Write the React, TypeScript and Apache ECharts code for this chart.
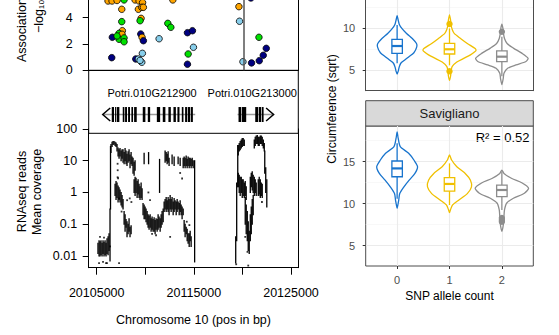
import React, { useEffect, useRef } from "react";
import * as echarts from "echarts";

const FONT = "'Liberation Sans', Arial, Helvetica, sans-serif";

// ---------------- left column: association / genes / RNAseq ----------------
const chromosomeTitle = "Chromosome 10 (pos in bp)";
const xMin = 20104175;
const xMax = 20125753;
const positionTicks = [20105000, 20110000, 20115000, 20120000, 20125000];
const positionTickLabels = [20105000, 20115000, 20125000];

// association (-log10 p) points, LD class: 0 navy, 1 light blue, 2 green, 3 orange
const assocTicks = [0, 2, 4];
const assocPos = [20106165, 20106577, 20107093, 20107815, 20108949, 20109361, 20109722, 20109289, 20109640, 20109804, 20107578, 20112836, 20119640, 20120877, 20107578, 20109567, 20109464, 20112320, 20112629, 20119702, 20106608, 20107639, 20107299, 20107608, 20107299, 20107815, 20107815, 20107093, 20109536, 20109671, 20109804, 20111423, 20114341, 20114856, 20106547, 20109021, 20109289, 20109701, 20109640, 20109464, 20114413, 20114959, 20114341, 20120053, 20120939, 20121702, 20121733, 20122145, 20122454];
const assocLogP = [5.27, 5.27, 5.31, 5.35, 5.35, 5.27, 5.15, 4.64, 4.79, 4.79, 4.64, 5.35, 4.84, 5.5, 3.7, 3.95, 3.77, 3.57, 3.27, 3.73, 2.51, 3.01, 2.81, 2.74, 2.36, 2.46, 2.17, 2.61, 2.76, 2.51, 2.25, 2.4, 2.86, 3.01, 0.96, 0.86, 0.86, 1.29, 0.61, 0.75, 1.24, 1.75, 0.46, 0.65, 0.56, 2.51, 0.73, 1.14, 1.67];
const assocLD = [3, 3, 3, 2, 3, 3, 3, 3, 3, 3, 3, 3, 3, 0, 2, 3, 2, 2, 2, 1, 0, 3, 2, 3, 2, 2, 2, 2, 0, 3, 0, 1, 0, 0, 0, 0, 1, 1, 1, 1, 2, 1, 0, 1, 0, 2, 0, 0, 0];
const ldColors = ["#000080", "#87CEEB", "#00E000", "#FFA500"];
const snpPosition = 20120114;

// gene models
const geneNames = ["Potri.010G212900", "Potri.010G213000"];
const geneStart = [20105620, 20119500];
const geneEnd = [20115140, 20123210];
const geneStrand = [-1, 1];
const geneLabelPos = [20110700, 20121010];
const exonStart = [20106550, 20106890, 20107090, 20107680, 20107920, 20108230, 20108570, 20108850, 20109740, 20110260, 20111190, 20111800, 20112380, 20112900, 20113310, 20113760, 20114100, 20114380, 20114690, 20119600, 20119950, 20121320, 20121700, 20122010];
const exonEnd = [20106780, 20107020, 20107330, 20107850, 20108120, 20108430, 20108740, 20109120, 20110010, 20110500, 20111530, 20112070, 20112630, 20113150, 20113520, 20113930, 20114310, 20114620, 20114900, 20119880, 20120390, 20121630, 20121940, 20122180];

// RNAseq mean coverage: [position, low, high] streaks and isolated values
const coverageTicks = [0.01, 0.1, 1, 10, 100];
const coverageRanges: [number, number, number][] = [
  [20105130, 0.012, 0.025], [20105240, 0.01, 0.03], [20105340, 0.01, 0.028], [20105440, 0.011, 0.03],
  [20105550, 0.01, 0.025], [20105650, 0.012, 0.03], [20105750, 0.01, 0.027], [20105860, 0.011, 0.03],
  [20105960, 0.01, 0.025], [20106060, 0.012, 0.035], [20106170, 0.011, 0.04], [20106270, 0.015, 0.05],
  [20106370, 0.007, 0.3], [20106420, 0.3, 28],
  [20106470, 18, 32], [20106580, 28, 38], [20106680, 32, 40], [20106780, 33, 40], [20106890, 30, 38],
  [20106990, 28, 36], [20107090, 20, 32], [20107200, 14, 25],
  [20107300, 12, 22], [20107400, 14, 24], [20107510, 10, 20], [20107610, 12, 22], [20107710, 9, 22],
  [20107820, 8, 18], [20107920, 10, 24], [20108020, 8, 20], [20108120, 7, 16], [20108230, 9, 19],
  [20108330, 10, 22], [20108430, 6, 15], [20108540, 8, 18], [20108640, 7, 13], [20108740, 4, 12],
  [20108850, 3.5, 9], [20108950, 5, 10],
  [20106890, 0.8, 1.8], [20106990, 0.6, 2.2], [20107090, 0.7, 2.0], [20107200, 0.5, 1.6], [20107300, 0.6, 1.4],
  [20107400, 0.5, 1.2], [20107510, 0.4, 1.0], [20107610, 0.35, 0.8], [20107710, 0.3, 0.6],
  [20107820, 0.1, 0.25], [20107920, 0.06, 0.2], [20108020, 0.08, 0.14], [20108120, 0.04, 0.12],
  [20108230, 0.05, 0.1], [20108330, 0.06, 0.15], [20108430, 0.04, 0.08], [20108540, 0.05, 0.09],
  [20108850, 1.0, 2.5], [20108950, 0.8, 3.0], [20109050, 1.0, 2.8], [20109160, 0.7, 2.2], [20109260, 0.9, 2.5],
  [20109360, 0.7, 1.8], [20109460, 0.6, 1.5], [20109570, 0.7, 2.0], [20109670, 0.6, 1.3],
  [20109880, 8, 17], [20110340, 8, 18],
  [20109770, 0.2, 0.45], [20109880, 0.15, 0.4], [20109980, 0.15, 0.35], [20110080, 0.12, 0.3],
  [20110190, 0.1, 0.25], [20110290, 0.08, 0.2], [20110390, 0.07, 0.18], [20110500, 0.08, 0.2],
  [20110600, 0.06, 0.15], [20110700, 0.07, 0.17], [20110800, 0.06, 0.14], [20110910, 0.06, 0.16],
  [20111010, 0.05, 0.13], [20111110, 0.07, 0.15], [20111220, 0.06, 0.14], [20111320, 0.07, 0.2],
  [20111420, 0.08, 0.17], [20111530, 0.06, 0.15], [20111630, 0.08, 0.2], [20111730, 0.1, 0.25],
  [20111840, 0.12, 0.3],
  [20111470, 1.0, 11],
  [20112040, 9, 20], [20112150, 10, 18], [20112250, 8, 16], [20112350, 9, 19], [20112450, 7, 12],
  [20112760, 8, 15], [20112970, 7, 13], [20113380, 8, 13], [20113590, 7, 12],
  [20111940, 0.25, 0.5], [20112040, 0.3, 0.6], [20112150, 0.25, 0.7], [20112250, 0.3, 0.55], [20112350, 0.25, 0.7],
  [20112450, 0.2, 0.6], [20112560, 0.3, 0.8], [20112660, 0.25, 0.6], [20112760, 0.3, 0.7], [20112870, 0.2, 0.5],
  [20112970, 0.25, 0.65], [20113070, 0.3, 0.55], [20113180, 0.2, 0.5], [20113280, 0.25, 0.6], [20113380, 0.3, 0.5],
  [20113490, 0.2, 0.45], [20113590, 0.25, 0.55], [20113690, 0.2, 0.4], [20113790, 0.15, 0.35], [20113900, 0.2, 0.3],
  [20113900, 6, 12], [20114000, 7, 13], [20114100, 6, 12], [20114210, 7, 14], [20114310, 6, 11],
  [20114410, 7, 13], [20114520, 6, 12], [20114620, 7, 12], [20114720, 6, 11], [20114830, 7, 12], [20114930, 6, 10],
  [20114000, 0.06, 0.13], [20114100, 0.04, 0.1], [20114210, 0.05, 0.08], [20114310, 0.03, 0.07],
  [20114410, 0.025, 0.05], [20114520, 0.02, 0.05], [20114620, 0.03, 0.06], [20114720, 0.02, 0.04],
  [20115080, 0.0065, 10],
  [20119310, 0.006, 0.04], [20119410, 0.03, 2], [20119520, 1.5, 30],
  [20119570, 15, 30], [20119670, 20, 35], [20119770, 22, 40], [20119880, 25, 45], [20119980, 28, 50],
  [20120080, 30, 50], [20120190, 30, 45],
  [20119570, 1.5, 4], [20119670, 1.0, 3.5], [20119770, 0.8, 3.0], [20119880, 1.0, 3.0], [20119980, 0.7, 2.5],
  [20120080, 0.8, 2.5], [20120190, 0.7, 2.0], [20120290, 0.8, 2.2], [20120390, 0.6, 1.5],
  [20120290, 0.1, 0.7], [20120390, 0.05, 0.4], [20120500, 0.03, 0.25], [20120600, 0.015, 0.12],
  [20120700, 0.012, 0.06], [20120810, 0.03, 0.2], [20120910, 0.05, 0.35], [20121010, 0.1, 0.6], [20121110, 0.2, 0.8],
  [20120810, 1.0, 3.0], [20120910, 1.5, 4.0], [20121010, 1.2, 4.5], [20121110, 1.0, 3.5], [20121220, 0.8, 3.0],
  [20121320, 1.0, 2.5], [20121420, 0.8, 2.0],
  [20121630, 0.8, 2.5], [20121730, 0.9, 3.0], [20121840, 0.7, 2.5], [20121940, 0.8, 2.0], [20122040, 0.7, 1.8],
  [20121220, 25, 45], [20121320, 30, 55], [20121420, 35, 60], [20121530, 35, 62], [20121630, 30, 55],
  [20121730, 30, 55], [20121840, 35, 60], [20121940, 35, 60], [20122040, 30, 55], [20122150, 25, 45], [20122250, 20, 35],
  [20122300, 4, 20], [20122400, 1.0, 6], [20122510, 0.35, 2.5],
];
const coverageDots: [number, number][] = [
  [20105240, 0.006], [20105650, 0.0065], [20105960, 0.006], [20106060, 0.006], [20105340, 0.04], [20105750, 0.038],
  [20106380, 0.02], [20107150, 3], [20107160, 5], [20107150, 8], [20107200, 2.8], [20107300, 0.65], [20107300, 0.006],
  [20107560, 0.25], [20108130, 0.57], [20108400, 0.65], [20108570, 0.5], [20110320, 1.0], [20110490, 0.57],
  [20110700, 0.05], [20111110, 0.045], [20112560, 0.04], [20113590, 4.1], [20113790, 2.75], [20114270, 0.12],
  [20114540, 0.094], [20119360, 0.0055], [20120290, 0.04], [20120520, 0.0135], [20120600, 0.005],
  [20121840, 0.82], [20122010, 0.5],
];

// ---------------- right column: violins ----------------
const alleleCounts = [0, 1, 2];
const alleleColors = ["#1874CD", "#F0C000", "#8C8C8C"];
const facetLabel = "Savigliano";
const rSquared = 0.52;
const circTicks = [5, 10, 15];
const circMinorTicks = [7.5, 12.5, 17.5];
// violin outlines: [circumference, half width]
const violinTop: [number, number][][] = [
  [[11.5, 0], [11.0, 0.02], [10.5, 0.04], [10.0, 0.09], [9.4, 0.18], [8.8, 0.29], [8.2, 0.37], [7.8, 0.375], [7.1, 0.32], [6.6, 0.22], [6.2, 0.14], [5.85, 0.07], [5.4, 0.04], [4.9, 0.02], [4.55, 0]],
  [[11.6, 0], [11.0, 0.02], [10.4, 0.03], [9.9, 0.05], [9.4, 0.09], [8.8, 0.21], [8.2, 0.34], [7.6, 0.49], [7.35, 0.505], [6.85, 0.4], [6.45, 0.28], [6.0, 0.14], [5.45, 0.05], [4.9, 0.03], [4.3, 0.02], [3.8, 0]],
  [[10.5, 0], [10.0, 0.02], [9.4, 0.03], [8.8, 0.05], [8.2, 0.1], [7.65, 0.22], [7.05, 0.38], [6.45, 0.5], [6.05, 0.46], [5.65, 0.27], [5.25, 0.11], [4.65, 0.04], [4.0, 0.025], [3.3, 0]],
];
const violinSav: [number, number][][] = [
  [[18.55, 0], [17.8, 0.02], [16.8, 0.06], [16.0, 0.22], [15.2, 0.32], [14.4, 0.39], [13.6, 0.34], [12.8, 0.23], [12.0, 0.13], [11.2, 0.05], [10.4, 0.03], [9.9, 0.015], [9.45, 0]],
  [[15.8, 0], [15.2, 0.04], [14.4, 0.14], [13.6, 0.3], [12.8, 0.4], [12.0, 0.42], [11.2, 0.34], [10.45, 0.18], [9.85, 0.06], [9.3, 0.02], [8.93, 0]],
  [[14.0, 0], [13.6, 0.04], [13.0, 0.19], [12.5, 0.38], [11.85, 0.51], [11.25, 0.43], [10.65, 0.22], [10.05, 0.09], [9.25, 0.05], [8.5, 0.04], [7.6, 0.03], [6.7, 0]],
];
// box stats: [lower whisker, q1, median, q3, upper whisker]
const boxTop = [[5.84, 7.03, 7.9, 8.7, 10.4], [5.6, 6.95, 7.51, 8.22, 10.0], [4.3, 6.03, 6.63, 7.31, 9.0]];
const boxSav = [[10.6, 13.21, 14.2, 15.08, 17.2], [9.84, 11.5, 12.35, 13.1, 14.8], [9.25, 10.83, 11.63, 12.22, 13.8]];
const outliersTop = [[], [10.52, 4.9], [9.6]];
const outliersSav = [[], [], [8.3, 8.05, 7.85]];

// ---------------- layout ----------------
const LX = 88.7, LW = 209.6;
const RX = 365.7, RW = 167.6;
const ASSOC_H = 70.3, ASSOC_PX_PER_UNIT = 13.15;
const LOG_MIN = -2.368, LOG_MAX = 2;
const C_MIN = 2.58, C_MAX = 19.25, C_PX_PER_UNIT = 8.4, TOP_FACET_H = 90.7;
const BOX_HALF = 0.1;

const makeViolinRender = (profiles: [number, number][][], boxes: number[][], outs: number[][]) =>
  (params: any, api: any) => {
    const g = params.dataIndex;
    const col = alleleColors[g];
    const prof = profiles[g];
    const right = prof.map(([y, w]) => api.coord([g + w, y]));
    const left = prof.slice().reverse().filter(([, w]) => w > 0).map(([y, w]) => api.coord([g - w, y]));
    const [lo, q1, med, q3, hi] = boxes[g];
    const tl = api.coord([g - BOX_HALF, q3]);
    const br = api.coord([g + BOX_HALF, q1]);
    const m1 = api.coord([g - BOX_HALF, med]);
    const m2 = api.coord([g + BOX_HALF, med]);
    const wHi = api.coord([g, hi]);
    const wLo = api.coord([g, lo]);
    const cTop = api.coord([g, q3]);
    const cBot = api.coord([g, q1]);
    const children: any[] = [
      { type: "polygon", shape: { points: right.concat(left), smooth: 0.25 }, style: { fill: "#fff", stroke: col, lineWidth: 1.3 } },
      { type: "line", shape: { x1: cTop[0], y1: cTop[1], x2: wHi[0], y2: wHi[1] }, style: { stroke: col, lineWidth: 1.3 } },
      { type: "line", shape: { x1: cBot[0], y1: cBot[1], x2: wLo[0], y2: wLo[1] }, style: { stroke: col, lineWidth: 1.3 } },
      { type: "rect", shape: { x: tl[0], y: tl[1], width: br[0] - tl[0], height: br[1] - tl[1] }, style: { fill: "#fff", stroke: col, lineWidth: 1.3 } },
      { type: "line", shape: { x1: m1[0], y1: m1[1], x2: m2[0], y2: m2[1] }, style: { stroke: col, lineWidth: 2.2 } },
    ];
    outs[g].forEach((v) => {
      const p = api.coord([g, v]);
      children.push({ type: "circle", shape: { cx: p[0], cy: p[1], r: 3.2 }, style: { fill: col } });
    });
    return { type: "group", children };
  };

const logTickValues = coverageTicks.map((t) => Math.log10(t));

function buildOption(): any {
  const axisBlack = { show: true, onZero: false, lineStyle: { color: "#000", width: 1 } };
  const axisGray = { show: true, onZero: false, lineStyle: { color: "#4d4d4d", width: 1 } };
  const assocMax = ASSOC_H / ASSOC_PX_PER_UNIT; // value at the top edge of the picture
  const topFacetMax = C_MIN + TOP_FACET_H / C_PX_PER_UNIT;
  return {
    animation: false,
    backgroundColor: "#fff",
    textStyle: { fontFamily: FONT },
    grid: [
      { left: LX, top: 0, width: LW, height: ASSOC_H },
      { left: LX, top: 70.3, width: LW, height: 63, show: true, borderColor: "#000", borderWidth: 1 },
      { left: LX, top: 128.9, width: LW, height: 138.8 },
      { left: RX, top: 0, width: RW, height: TOP_FACET_H },
      { left: RX, top: 126, width: RW, height: 140, show: true, borderColor: "#4d4d4d", borderWidth: 1 },
    ],
    xAxis: [
      {
        gridIndex: 0, type: "value", min: xMin, max: xMax,
        axisLine: axisBlack, axisTick: { show: false }, axisLabel: { show: false }, splitLine: { show: false },
      },
      { gridIndex: 1, type: "value", min: xMin, max: xMax, show: false },
      {
        gridIndex: 2, type: "value", min: xMin, max: xMax,
        axisLine: axisBlack,
        axisTick: { show: true, customValues: positionTicks, length: 7, lineStyle: { color: "#000" } },
        axisLabel: { customValues: positionTickLabels, formatter: (v: number) => String(v), fontSize: 12.5, color: "#000", margin: 19, fontFamily: FONT },
        splitLine: { show: false },
        name: chromosomeTitle, nameLocation: "middle", nameGap: 46,
        nameTextStyle: { fontSize: 12.5, color: "#000", fontFamily: FONT },
      },
      {
        gridIndex: 3, type: "value", min: -0.6, max: 2.6,
        axisLine: axisGray,
        axisTick: { show: false, customValues: alleleCounts },
        axisLabel: { show: false },
        splitLine: { show: true, lineStyle: { color: "#EBEBEB", width: 1.1 } },
      },
      {
        gridIndex: 4, type: "value", min: -0.6, max: 2.6,
        axisLine: { show: false, onZero: false },
        axisTick: { show: true, customValues: alleleCounts, length: 3, lineStyle: { color: "#333" } },
        axisLabel: { customValues: alleleCounts, fontSize: 11, color: "#4d4d4d", margin: 8, fontFamily: FONT },
        splitLine: { show: true, lineStyle: { color: "#EBEBEB", width: 1.1 } },
        name: "SNP allele count", nameLocation: "middle", nameGap: 24,
        nameTextStyle: { fontSize: 12, color: "#000", fontFamily: FONT },
      },
    ],
    yAxis: [
      {
        gridIndex: 0, type: "value", min: 0, max: assocMax,
        axisLine: axisBlack,
        axisTick: { show: true, customValues: assocTicks, length: 6, lineStyle: { color: "#000" } },
        axisLabel: { customValues: assocTicks, fontSize: 12.5, color: "#000", margin: 16, fontFamily: FONT },
        splitLine: { show: false },
      },
      {
        gridIndex: 0, type: "value", position: "right", min: 0, max: assocMax,
        axisLine: axisBlack, axisTick: { show: false }, axisLabel: { show: false }, splitLine: { show: false },
      },
      { gridIndex: 1, type: "value", min: 0, max: 1, show: false },
      {
        gridIndex: 2, type: "value", min: LOG_MIN, max: LOG_MAX,
        axisLine: axisBlack,
        axisTick: { show: true, customValues: logTickValues, length: 6, lineStyle: { color: "#000" } },
        axisLabel: {
          customValues: logTickValues, fontSize: 12.5, color: "#000", margin: 11.5, fontFamily: FONT,
          formatter: (v: number) => {
            const i = logTickValues.findIndex((t) => Math.abs(t - v) < 1e-9);
            return i >= 0 ? String(coverageTicks[i]) : "";
          },
        },
        splitLine: { show: false },
      },
      {
        gridIndex: 2, type: "value", position: "right", min: LOG_MIN, max: LOG_MAX,
        axisLine: axisBlack, axisTick: { show: false }, axisLabel: { show: false }, splitLine: { show: false },
      },
      {
        gridIndex: 3, type: "value", min: C_MIN, max: topFacetMax,
        axisLine: axisGray,
        axisTick: { show: true, customValues: circTicks, length: 3, lineStyle: { color: "#333" } },
        axisLabel: { customValues: circTicks, fontSize: 11, color: "#4d4d4d", margin: 10.5, fontFamily: FONT },
        splitLine: { show: true, lineStyle: { color: "#EBEBEB", width: 1.1 } },
      },
      {
        gridIndex: 3, type: "value", position: "right", min: C_MIN, max: topFacetMax,
        axisLine: axisGray,
        axisTick: { show: false, customValues: circMinorTicks },
        axisLabel: { show: false },
        splitLine: { show: true, lineStyle: { color: "#F3F3F3", width: 0.6 } },
      },
      {
        gridIndex: 4, type: "value", min: C_MIN, max: C_MAX,
        axisLine: { show: false, onZero: false },
        axisTick: { show: true, customValues: circTicks, length: 3, lineStyle: { color: "#333" } },
        axisLabel: { customValues: circTicks, fontSize: 11, color: "#4d4d4d", margin: 10.5, fontFamily: FONT },
        splitLine: { show: true, lineStyle: { color: "#EBEBEB", width: 1.1 } },
      },
      {
        gridIndex: 4, type: "value", position: "right", min: C_MIN, max: C_MAX,
        axisLine: { show: false, onZero: false },
        axisTick: { show: false, customValues: circMinorTicks },
        axisLabel: { show: false },
        splitLine: { show: true, lineStyle: { color: "#F3F3F3", width: 0.6 } },
      },
    ],
    series: [
      {
        type: "scatter", xAxisIndex: 0, yAxisIndex: 0, clip: false,
        data: assocPos.map((p, i) => [p, assocLogP[i], assocLD[i]]),
        symbolSize: 6.5,
        itemStyle: { color: (p: any) => ldColors[p.data[2]], borderColor: "#000", borderWidth: 0.8, opacity: 1 },
        markLine: {
          silent: true, symbol: ["none", "none"], label: { show: false },
          lineStyle: { color: "#555", width: 1.5, type: "solid" },
          data: [{ xAxis: snpPosition }],
        },
        z: 3,
      },
      {
        type: "custom", xAxisIndex: 1, yAxisIndex: 2,
        data: geneStart.map((s, i) => [s, geneEnd[i], geneStrand[i], geneLabelPos[i]]),
        encode: { x: [0, 1], y: 2 },
        renderItem: (params: any, api: any) => {
          const s = api.value(0), e = api.value(1), strand = api.value(2);
          const p0 = api.coord([s, 0.298]);
          const p1 = api.coord([e, 0.298]);
          const tip = strand < 0 ? p0 : p1;
          const dir = strand < 0 ? 1 : -1;
          const lab = api.coord([api.value(3), 0.64]);
          return {
            type: "group",
            children: [
              { type: "line", shape: { x1: p0[0], y1: p0[1], x2: p1[0], y2: p1[1] }, style: { stroke: "#9a9a9a", lineWidth: 1.6 } },
              { type: "polyline", shape: { points: [[tip[0] + dir * 7.5, tip[1] - 6.5], [tip[0], tip[1]], [tip[0] + dir * 7.5, tip[1] + 6.5]] }, style: { stroke: "#000", lineWidth: 1.5, fill: "none" } },
              { type: "text", x: lab[0], y: lab[1], style: { text: geneNames[params.dataIndex], fontSize: 11, fontFamily: FONT, fill: "#000", align: "center", verticalAlign: "middle" } },
            ],
          };
        },
      },
      {
        type: "custom", xAxisIndex: 1, yAxisIndex: 2,
        data: exonStart.map((s, i) => [s, exonEnd[i]]),
        encode: { x: [0, 1] },
        renderItem: (params: any, api: any) => {
          const a = api.coord([api.value(0), 0.417]);
          const b = api.coord([api.value(1), 0.179]);
          return { type: "rect", shape: { x: a[0], y: a[1], width: Math.max(1, b[0] - a[0]), height: b[1] - a[1] }, style: { fill: "#000" } };
        },
        z: 3,
      },
      {
        type: "custom", xAxisIndex: 2, yAxisIndex: 3,
        data: coverageRanges.map(([p, lo, hi]) => [p, Math.log10(lo), Math.log10(hi)]),
        encode: { x: 0, y: [1, 2] },
        renderItem: (params: any, api: any) => {
          const a = api.coord([api.value(0), api.value(1)]);
          const b = api.coord([api.value(0), api.value(2)]);
          return { type: "line", shape: { x1: a[0], y1: a[1] + 0.5, x2: b[0], y2: b[1] - 0.5 }, style: { stroke: "#000", lineWidth: 1.3 } };
        },
      },
      {
        type: "scatter", xAxisIndex: 2, yAxisIndex: 3,
        data: coverageDots.map(([p, v]) => [p, Math.log10(v)]),
        symbol: "rect", symbolSize: 1.8,
        itemStyle: { color: "#000" },
      },
      {
        type: "custom", xAxisIndex: 3, yAxisIndex: 5,
        data: alleleCounts.map((g, i) => [g, boxTop[i][2]]),
        encode: { x: 0, y: 1 },
        renderItem: makeViolinRender(violinTop, boxTop, outliersTop),
      },
      {
        type: "custom", xAxisIndex: 4, yAxisIndex: 7,
        data: alleleCounts.map((g, i) => [g, boxSav[i][2]]),
        encode: { x: 0, y: 1 },
        renderItem: makeViolinRender(violinSav, boxSav, outliersSav),
      },
    ],
    graphic: [
      { type: "text", x: 22, y: 62, rotation: Math.PI / 2, style: { text: "Association", fontSize: 12.5, fontFamily: FONT, fill: "#000", align: "left", verticalAlign: "middle" } },
      { type: "text", x: 38.5, y: 33, rotation: Math.PI / 2, style: { text: "\u2212log\u2081\u2080(p)", fontSize: 12.5, fontFamily: FONT, fill: "#000", align: "left", verticalAlign: "middle" } },
      { type: "text", x: 22, y: 191.5, rotation: Math.PI / 2, style: { text: "RNAseq reads", fontSize: 12.5, fontFamily: FONT, fill: "#000", align: "center", verticalAlign: "middle" } },
      { type: "text", x: 37, y: 192, rotation: Math.PI / 2, style: { text: "Mean coverage", fontSize: 12.5, fontFamily: FONT, fill: "#000", align: "center", verticalAlign: "middle" } },
      { type: "text", x: 332, y: 109, rotation: Math.PI / 2, style: { text: "Circumference (sqrt)", fontSize: 12, fontFamily: FONT, fill: "#000", align: "center", verticalAlign: "middle" } },
      { type: "rect", shape: { x: RX, y: 100.7, width: RW, height: 25.3 }, style: { fill: "#D9D9D9", stroke: "#4d4d4d", lineWidth: 1 } },
      { type: "text", x: RX + RW / 2, y: 113.5, style: { text: facetLabel, fontSize: 13, fontFamily: FONT, fill: "#1a1a1a", align: "center", verticalAlign: "middle" } },
      { type: "text", x: 529.5, y: 137, style: { text: "R\u00B2 = " + rSquared.toFixed(2), fontSize: 13, fontFamily: FONT, fill: "#000", align: "right", verticalAlign: "middle" } },
    ],
  };
}

export default function App() {
  const ref = useRef<HTMLDivElement>(null);
  useEffect(() => {
    document.body.style.margin = "0";
    const chart = echarts.init(ref.current as HTMLDivElement, null, { renderer: "svg" });
    chart.setOption(buildOption());
    return () => chart.dispose();
  }, []);
  return <div ref={ref} style={{ width: 559, height: 335, background: "#fff" }} />;
}
